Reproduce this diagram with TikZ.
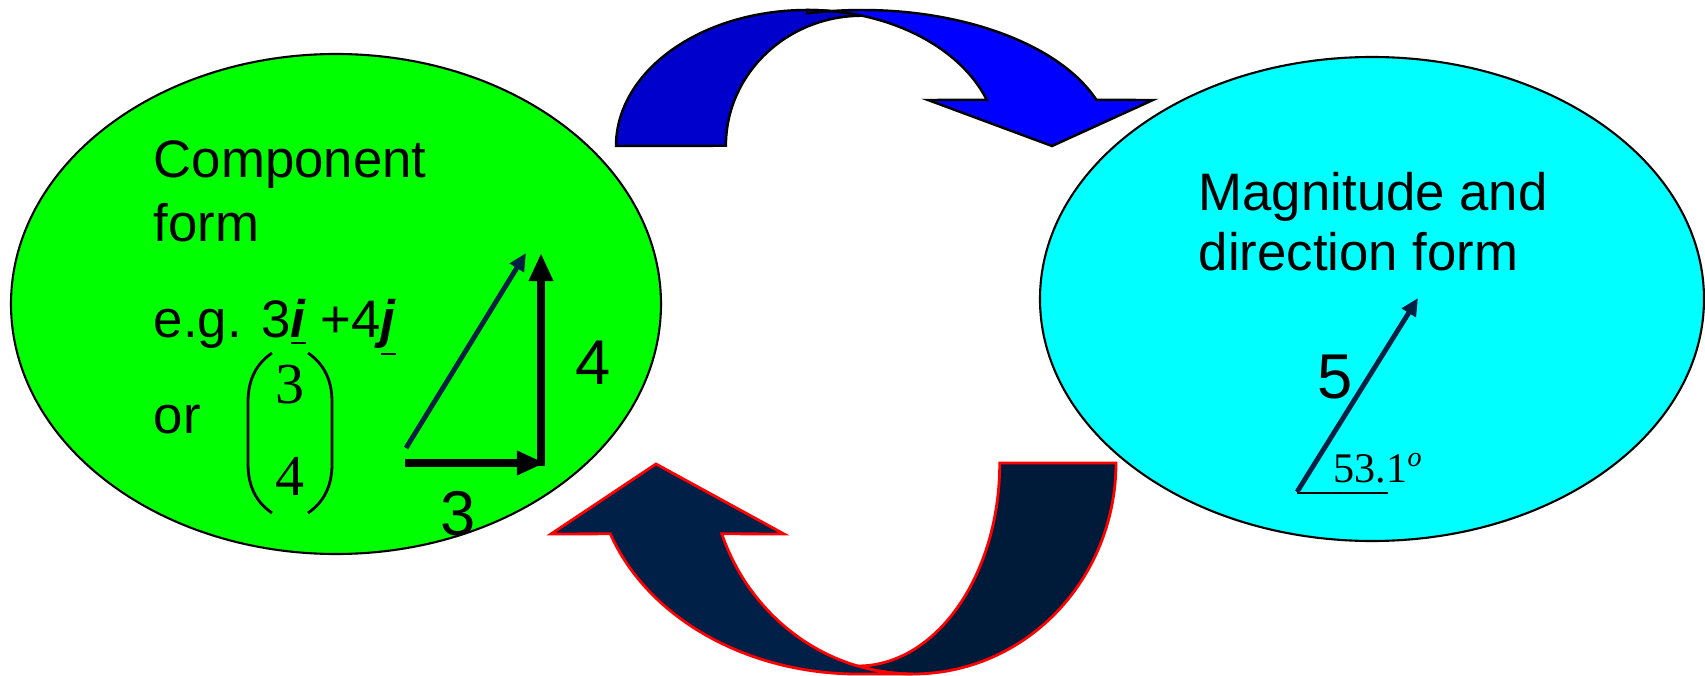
\documentclass[tikz,border=0pt]{standalone}
\usepackage{fontspec}
\setmainfont{Liberation Sans}
\newfontfamily\seriffont{Liberation Serif}
\usetikzlibrary{arrows.meta}
\definecolor{lgreen}{RGB}{0,255,0}
\definecolor{lcyan}{RGB}{0,255,255}
\definecolor{blueback}{RGB}{0,0,204}
\definecolor{bluefront}{RGB}{0,0,255}
\definecolor{navyback}{RGB}{0,26,58}
\definecolor{navyfront}{RGB}{0,32,72}
\definecolor{vecnavy}{RGB}{0,32,68}
\begin{document}
\begin{tikzpicture}[x=0.01cm,y=0.01cm,
  blob/.style={draw=black,line width=0.6pt},
  bluearrow/.style={draw=black,line width=0.7pt,line join=miter},
  navyarrow/.style={draw=red,line width=0.8pt,line join=miter},
  txt/.style={anchor=base west,inner sep=0pt,font=\fontsize{15}{18}\selectfont},
  bignum/.style={anchor=base,inner sep=0pt,font=\fontsize{18}{21}\selectfont},
  sernum/.style={anchor=base,inner sep=0pt,font=\seriffont\fontsize{16.5}{19}\selectfont},
  thickvec/.style={line width=2pt,-{Triangle[length=8pt,width=6.5pt]}},
  diagvec/.style={draw=vecnavy,line width=1.4pt,-{Triangle[length=5pt,width=4.5pt]}},
  paren/.style={line width=0.8pt}]
\path[use as bounding box] (0,0) rectangle (1705,-676);

% ellipses
\draw[blob,fill=lgreen] (336,-304) ellipse [x radius=325, y radius=250];
\draw[blob,fill=lcyan] (1372,-299) ellipse [x radius=332, y radius=242];

% top curved arrow: back part
\filldraw[bluearrow,fill=blueback] (616,-146)
  arc[start angle=180,end angle=73.3,x radius=191,y radius=136]
  arc[start angle=90,end angle=180,x radius=136,y radius=130] -- cycle;
% top curved arrow: front part with head
\filldraw[bluearrow,fill=bluefront] (807,-13.4)
  arc[start angle=102.8,end angle=19.8,x radius=249,y radius=136]
  -- (1153,-100) -- (1052,-146) -- (928,-100) -- (986.8,-99.9)
  arc[start angle=19.8,end angle=90,x radius=191,y radius=136] -- cycle;

% bottom curved arrow: back part
\filldraw[navyarrow,fill=navyback] (1116,-463)
  arc[start angle=0,end angle=-105.8,x radius=203,y radius=211]
  arc[start angle=-90,end angle=0,x radius=142,y radius=203] -- cycle;
% bottom curved arrow: front part with head
\filldraw[navyarrow,fill=navyfront] (610.3,-533.8)
  arc[start angle=199.6,end angle=270,x radius=263,y radius=211]
  -- (913,-674)
  arc[start angle=270,end angle=199.6,x radius=203,y radius=211]
  -- (784,-534) -- (656,-464) -- (551,-534) -- cycle;

% left texts
\node[txt] (comp) at (153,-178) {Component};
\node[txt] (form) at (153,-242) {form};
\node[txt] (eg) at (153,-338) {e.g. 3\underline{\textbf{\textit{i}}} +4\underline{\textbf{\textit{j}}}};
\node[txt] (or) at (153,-433) {or};

% column vector
\draw[paren] (272,-353) .. controls (256,-364) and (248,-380) .. (248,-402)
  -- (248,-464) .. controls (248,-486) and (256,-502) .. (272,-513);
\draw[paren] (308,-353) .. controls (324,-364) and (332,-380) .. (332,-402)
  -- (332,-464) .. controls (332,-486) and (324,-502) .. (308,-513);
\node[sernum] (c3) at (290,-404) {3};
\node[sernum] (c4) at (290,-495) {4};

% component triangle
\coordinate (h0) at (405,-463);
\coordinate (h1) at (545,-463);
\coordinate (v0) at (541,-466);
\coordinate (v1) at (541,-253);
\coordinate (d0) at (406,-448);
\coordinate (d1) at (526,-253);
\draw[thickvec] (h0) -- (h1);
\draw[thickvec] (v0) -- (v1);
\draw[diagvec] (d0) -- (d1);
\node[bignum] (l4) at (593,-385) {4};
\node[bignum] (l3) at (458,-535) {3};

% right texts
\node[txt] (mag) at (1198,-211) {Magnitude and};
\node[txt] (dir) at (1198,-271) {direction form};

\coordinate (r0) at (1297,-492);
\coordinate (r1) at (1418,-298);
\coordinate (b1) at (1388,-493);
\draw[line width=0.8pt] (1297,-493) -- (b1);
\draw[diagvec] (r0) -- (r1);
\node[bignum] (l5) at (1335,-399) {5};
\node[anchor=base west,inner sep=0pt,font=\seriffont\fontsize{12}{14}\selectfont] (ang) at (1333,-482) {53.1\textsuperscript{\itshape o}};
\end{tikzpicture}
\end{document}
